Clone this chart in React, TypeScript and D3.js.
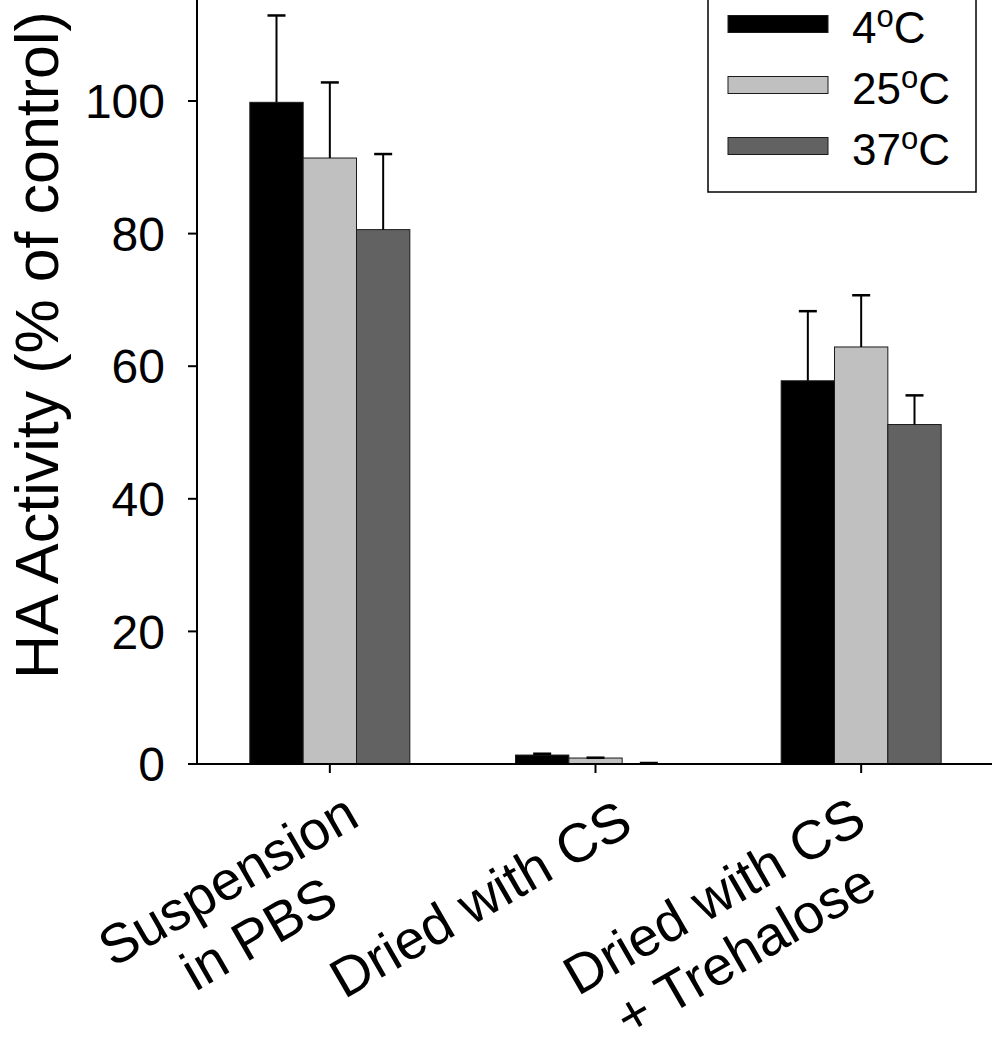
import React from 'react';
import * as d3 from 'd3';

// ---- data ----
const categories: string[][] = [
  ['Suspension', 'in PBS'],
  ['Dried with CS'],
  ['Dried with CS', '+ Trehalose'],
];
const seriesNames = ['4', '25', '37'];
const mean4 = [99.8, 1.35, 57.8];
const err4 = [13.1, 0.2, 10.5];
const mean25 = [91.4, 0.9, 62.9];
const err25 = [11.4, 0.05, 7.8];
const mean37 = [80.6, 0.05, 51.2];
const err37 = [11.4, 0.1, 4.4];
const yTicks = [0, 20, 40, 60, 80, 100];
const yTitle = 'HA Activity (% of control)';

const seriesColors = ['#000000', '#c0c0c0', '#626262'];
const seriesMeans = [mean4, mean25, mean37];
const seriesErrs = [err4, err25, err37];

const FONT = "'Liberation Sans', Arial, Helvetica, sans-serif";

const W = 992;
const H = 1050;
const axisX = 197;
const axisY = 764;
const rightX = 994;

// per-label nudges of the rotated tick-label block (top-right corner, relative to tick)
const labelNudgeX = [12, 20, -12];
const labelNudgeY = [26, 33, 30];

const measure = (() => {
  let ctx: CanvasRenderingContext2D | null = null;
  return (text: string, size: number) => {
    if (!ctx) {
      const c = document.createElement('canvas');
      ctx = c.getContext('2d');
    }
    if (!ctx) return text.length * size * 0.5;
    ctx.font = `${size}px ${FONT}`;
    return ctx.measureText(text).width;
  };
})();

export default function App() {
  const y = d3.scaleLinear().domain([0, 120]).range([axisY, axisY - 120 * 6.63]);
  const x0 = d3
    .scaleBand<number>()
    .domain(categories.map((_, i) => i))
    .range([axisX, rightX])
    .paddingInner(0)
    .paddingOuter(0);
  const groupW = 160;
  const x1 = d3
    .scaleBand<number>()
    .domain(seriesNames.map((_, i) => i))
    .range([-groupW / 2, groupW / 2]);

  const center = (i: number) => (x0(i) as number) + x0.bandwidth() / 2;

  const labelSize = 55;
  const lineH = 62;
  const ascent = labelSize * 0.72;
  const angle = -30;

  return (
    <svg
      width={W}
      height={H}
      style={{ position: 'absolute', left: 0, top: 0, background: '#fff' }}
      fontFamily={FONT}
    >
      {/* bars */}
      {seriesNames.map((s, si) => (
        <g key={s}>
          {categories.map((_, gi) => {
            const v = seriesMeans[si][gi];
            const bx = center(gi) + (x1(si) as number);
            return (
              <rect
                key={gi}
                x={bx}
                y={y(v)}
                width={x1.bandwidth()}
                height={y(0) - y(v)}
                fill={seriesColors[si]}
                stroke="#1a1a1a"
                strokeWidth={1}
              />
            );
          })}
        </g>
      ))}
      {/* error bars (upper only) */}
      {seriesNames.map((s, si) => (
        <g key={'e' + s} stroke="#000">
          {categories.map((_, gi) => {
            const v = seriesMeans[si][gi];
            const e = seriesErrs[si][gi];
            const cx = center(gi) + (x1(si) as number) + x1.bandwidth() / 2;
            return (
              <g key={gi}>
                <line x1={cx} x2={cx} y1={y(v)} y2={y(v + e)} strokeWidth={2} />
                <line x1={cx - 9} x2={cx + 9} y1={y(v + e)} y2={y(v + e)} strokeWidth={2.5} />
              </g>
            );
          })}
        </g>
      ))}
      {/* y axis */}
      <line x1={axisX} x2={axisX} y1={y(0) + 1} y2={y(120)} stroke="#000" strokeWidth={2} />
      {yTicks.map((t) => (
        <g key={t}>
          <line x1={axisX - 9} x2={axisX} y1={y(t)} y2={y(t)} stroke="#000" strokeWidth={2} />
          <text
            x={165}
            y={y(t)}
            dy="0.358em"
            textAnchor="end"
            fontSize={48}
            fill="#000"
          >
            {t}
          </text>
        </g>
      ))}
      <text
        transform={`translate(58, 345) rotate(-90)`}
        textAnchor="middle"
        fontSize={61}
        fill="#000"
      >
        {yTitle}
      </text>
      {/* x axis */}
      <line x1={axisX - 9} x2={rightX} y1={axisY} y2={axisY} stroke="#000" strokeWidth={2} />
      {categories.map((lines, gi) => {
        const cx = center(gi);
        const wmax = Math.max(...lines.map((l) => measure(l, labelSize)));
        const a = (angle * Math.PI) / 180;
        const lx = wmax / 2;
        const ly = -ascent;
        const rx = lx * Math.cos(a) - ly * Math.sin(a);
        const ry = lx * Math.sin(a) + ly * Math.cos(a);
        const ax = cx + labelNudgeX[gi] - rx;
        const ay = axisY + labelNudgeY[gi] - ry;
        return (
          <g key={gi}>
            <line x1={cx} x2={cx} y1={axisY} y2={axisY + 9} stroke="#000" strokeWidth={2} />
            <g transform={`translate(${ax}, ${ay}) rotate(${angle})`}>
              {lines.map((l, li) => (
                <text
                  key={li}
                  x={0}
                  y={li * lineH}
                  textAnchor="middle"
                  fontSize={labelSize}
                  fill="#000"
                >
                  {l}
                </text>
              ))}
            </g>
          </g>
        );
      })}
      {/* legend */}
      <rect x={708} y={-10} width={268} height={202} fill="#fff" stroke="#000" strokeWidth={1.5} />
      {seriesNames.map((s, si) => {
        const cy = 24 + si * 61;
        return (
          <g key={'l' + s}>
            <rect
              x={728}
              y={cy - 8.5}
              width={100}
              height={17}
              fill={seriesColors[si]}
              stroke="#1a1a1a"
              strokeWidth={1}
            />
            <text x={852} y={cy + 18.5} fontSize={44} fill="#000">
              {s}
              <tspan fontSize={31} dy={-16}>o</tspan>
              <tspan dy={16}>C</tspan>
            </text>
          </g>
        );
      })}
    </svg>
  );
}
